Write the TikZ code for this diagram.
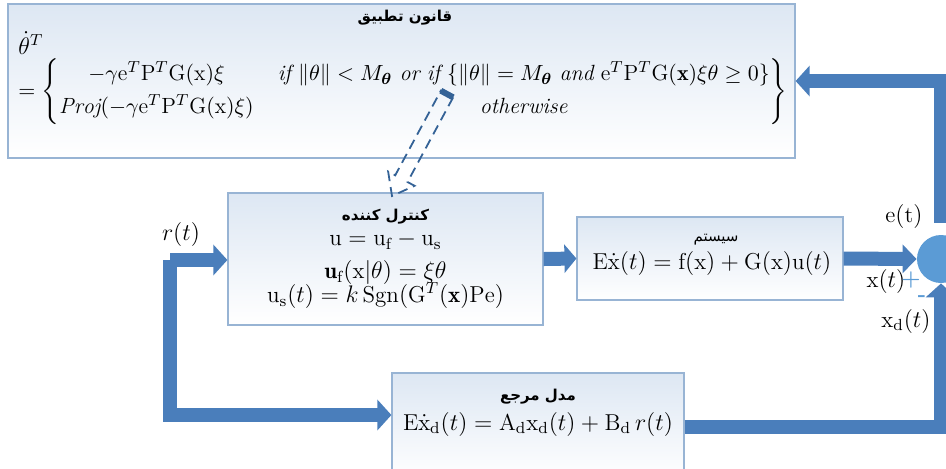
\documentclass[tikz,border=0pt]{standalone}
\usepackage{amsmath,amssymb,bm}
\usepackage{fontspec}
\newfontfamily\farsifont[Script=Arabic]{DejaVu Sans}
\TeXXeTstate=1
\usetikzlibrary{arrows.meta,calc,positioning}
\definecolor{flowblue}{RGB}{74,126,187}
\definecolor{sumblue}{RGB}{91,155,213}
\definecolor{boxline}{RGB}{152,180,212}
\definecolor{boxtop}{RGB}{221,231,243}
\definecolor{dashblue}{RGB}{52,98,150}

\begin{document}
\begin{tikzpicture}[
    x=0.5pt, y=-0.5pt,
    font=\fontsize{11.5}{14}\selectfont,
    block/.style={draw=boxline, line width=0.6pt, top color=boxtop, bottom color=white, inner sep=0pt},
    title/.style={inner sep=0pt, font=\fontsize{7.5}{9}\selectfont\farsifont\bfseries},
    flow/.style={draw=flowblue, line width=7pt, -{Triangle[length=7pt,width=15pt]}},
    adaptarrow/.style={draw=dashblue, line width=0.9pt, dash pattern=on 5pt off 3pt},
    sig/.style={inner sep=0pt},
    sign/.style={inner sep=0pt, text=sumblue, font=\fontsize{11}{13}\selectfont\bfseries}
]
    \clip (0,0) rectangle (946,468);

    % Blocks
    \node[block, minimum width=393.5pt, minimum height=77pt] (adapt) at (401.5,81) {};
    \node[block, minimum width=157.5pt, minimum height=66pt] (ctrl) at (385.5,259) {};
    \node[block, minimum width=133pt, minimum height=41.5pt] (plant) at (710,258.5) {};
    \node[block, minimum width=146pt, minimum height=53.5pt] (refm) at (538,426.5) {};

    % Summing junction
    \node[circle, fill=sumblue, minimum size=24pt, inner sep=0pt] (sum) at (941,259) {};

    % Adaptation law
    \node[title] (adapttitle) at (405,18) {\beginR قانون تطبیق\endR};
    \node[sig, anchor=west] (lawtheta) at (18,43) {$\dot{\theta}^T$};
    \node[sig, anchor=west, font=\fontsize{11}{13.5}\selectfont] (lawcases) at (18,92) {$= \left\{ \begin{array}{@{}c@{\hspace{12pt}}c@{}}
        -\gamma \mathrm{e}^T\mathrm{P}^T\mathrm{G}(\mathrm{x})\xi &
        \mathit{if}\ \|\theta\| < M_{\boldsymbol{\theta}}\ \mathit{or}\ \mathit{if}\ \{\|\theta\| = M_{\boldsymbol{\theta}}\ \mathit{and}\ \mathrm{e}^T\mathrm{P}^T\mathrm{G}(\mathbf{x})\xi\theta \geq 0\} \\[3pt]
        \mathit{Proj}(-\gamma \mathrm{e}^T\mathrm{P}^T\mathrm{G}(\mathrm{x})\xi) & \mathit{otherwise}
    \end{array}\right\}$};

    % Controller
    \node[title] (ctrltitle) at (385.5,217) {\beginR کنترل کننده\endR};
    \node[sig, align=center] (ctrltext) at (385.5,270) {%
        $\mathrm{u} = \mathrm{u}_\mathrm{f} - \mathrm{u}_\mathrm{s}$\\[2.5pt]
        $\mathbf{u}_\mathrm{f}(\mathrm{x}|\theta) = \xi\theta$\\[-2pt]
        $\mathrm{u}_\mathrm{s}(t) = k\,\mathrm{Sgn}(\mathrm{G}^T(\mathbf{x})\mathrm{Pe})$};

    % System
    \node[sig, font=\fontsize{7.5}{9}\selectfont\farsifont] (planttitle) at (716,240) {\beginR سیستم\endR};
    \node[sig] (planteq) at (712,263) {$\mathrm{E}\dot{\mathrm{x}}(t) = \mathrm{f}(\mathrm{x}) + \mathrm{G}(\mathrm{x})\mathrm{u}(t)$};

    % Reference model
    \node[title] (refmtitle) at (538,397) {\beginR مدل مرجع\endR};
    \node[sig] (refmeq) at (538,424) {$\mathrm{E}\dot{\mathrm{x}}_\mathrm{d}(t) = \mathrm{A}_\mathrm{d}\mathrm{x}_\mathrm{d}(t) + \mathrm{B}_\mathrm{d}\,r(t)$};

    % Signal flow
    \coordinate (rtop) at (170,260);
    \coordinate (rdown) at (170,415);
    \draw[flow] (rtop) -- (rtop -| ctrl.west);
    \draw[flow] (rtop) -- (rdown) -- (rdown -| refm.west);
    \draw[flow, -{Triangle[length=6pt,width=14pt]}] (ctrl.east) -- (plant.west);
    \draw[flow, -{Triangle[length=7pt,width=14pt]}] (plant.east) -- (sum.west);
    \draw[flow, shorten <=6pt] (sum.north) |- (adapt.east);
    \draw[flow] (refm.east) -| (sum.south);

    % Signal labels
    \node[sig] (rlabel) at (181,234) {$r(t)$};
    \node[sig] (elabel) at (904,216) {$\mathrm{e}(\mathrm{t})$};
    \node[sig] (xlabel) at (886,281) {$\mathrm{x}(t)$};
    \node[sign] (plus) at (911,280) {+};
    \node[sign] (minus) at (922,299) {-};
    \node[sig] (xdlabel) at (906,321) {$\mathrm{x}_\mathrm{d}(t)$};

    % Adaptation path to controller
    \coordinate (lawtap) at (447,94);
    \coordinate (ctrltap) at (392,196);
    \coordinate (dneck) at ($(lawtap)!0.83!(ctrltap)$);
    \draw[adaptarrow] ($(lawtap)!3.5pt!90:(ctrltap)$) -- ($(dneck)!3.5pt!90:(ctrltap)$)
        -- ($(dneck)!7.5pt!90:(ctrltap)$) -- (ctrltap) -- ($(dneck)!7.5pt!-90:(ctrltap)$)
        -- ($(dneck)!3.5pt!-90:(ctrltap)$) -- ($(lawtap)!3.5pt!-90:(ctrltap)$) -- cycle;
    \draw[dashblue, line width=3pt] ($(lawtap)!3.5pt!90:(ctrltap)$) -- ($(lawtap)!3.5pt!-90:(ctrltap)$);
\end{tikzpicture}
\end{document}
